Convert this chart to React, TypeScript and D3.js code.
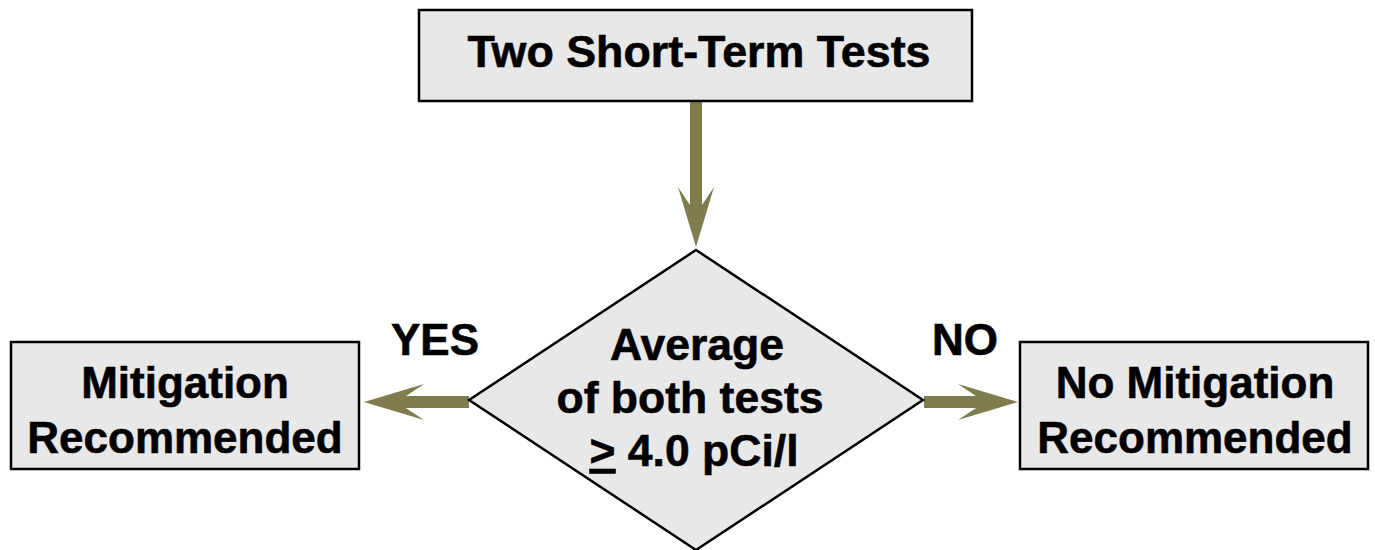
import React, { useEffect, useRef } from "react";
import * as d3 from "d3";

// flowchart content
const boxLabels: string[][] = [
  ["Two Short-Term Tests"],
  ["Mitigation", "Recommended"],
  ["No Mitigation", "Recommended"],
];
const decisionLines: string[] = ["Average", "of both tests", "> 4.0 pCi/l"];
const branchLabels: string[] = ["YES", "NO"];

const W = 1375;
const H = 550;
const FILL = "#e8e8e8";
const OLIVE = "#7f7d4e";
const FONT = "'Liberation Sans', Arial, Helvetica, sans-serif";

// notched arrow from (x1,y1) to tip (x2,y2)
function arrowPoints(x1: number, y1: number, x2: number, y2: number): [number, number][] {
  const len = Math.hypot(x2 - x1, y2 - y1);
  const ux = (x2 - x1) / len;
  const uy = (y2 - y1) / len;
  const nx = -uy;
  const ny = ux;
  const sw = 6; // half shaft
  const head = 60;
  const notch = 42;
  const barb = 18;
  const p = (a: number, b: number): [number, number] => [x1 + ux * a + nx * b, y1 + uy * a + ny * b];
  return [
    p(0, -sw),
    p(len - notch, -sw),
    p(len - head, -barb),
    p(len, 0),
    p(len - head, barb),
    p(len - notch, sw),
    p(0, sw),
  ];
}

const App = () => {
  const svgRef = useRef<SVGSVGElement | null>(null);

  useEffect(() => {
    const svg = d3.select(svgRef.current);
    svg.selectAll("*").remove();

    const boxes = [
      { x: 419, y: 10, w: 553, h: 91, cx: 699, base: [67], fs: 44.8 },
      { x: 11, y: 342, w: 348, h: 127, cx: 185, base: [398, 453], fs: 44 },
      { x: 1020, y: 342, w: 348, h: 127, cx: 1195, base: [398, 453], fs: 44 },
    ];

    const line = d3.line();

    // arrows
    const arrows: [number, number, number, number][] = [
      [696, 101, 696, 247],
      [469, 402, 364, 402],
      [924, 402, 1018, 402],
    ];
    svg
      .append("g")
      .selectAll("path")
      .data(arrows)
      .join("path")
      .attr("d", (d) => line(arrowPoints(d[0], d[1], d[2], d[3]))! + "Z")
      .attr("fill", OLIVE);

    // boxes
    const bg = svg.append("g").selectAll("g").data(boxes).join("g");
    bg.append("rect")
      .attr("x", (d) => d.x)
      .attr("y", (d) => d.y)
      .attr("width", (d) => d.w)
      .attr("height", (d) => d.h)
      .attr("fill", FILL)
      .attr("stroke", "#000")
      .attr("stroke-width", 2.5);
    bg.each(function (d, i) {
      d3.select(this)
        .selectAll("text")
        .data(boxLabels[i])
        .join("text")
        .attr("x", d.cx)
        .attr("y", (_, j) => d.base[j])
        .attr("text-anchor", "middle")
        .attr("font-family", FONT)
        .attr("font-weight", "bold")
        .attr("font-size", d.fs)
        .attr("fill", "#000")
        .attr("stroke", "#000")
        .attr("stroke-width", 0.6)
        .text((t) => t);
    });

    // decision diamond
    const cx = 696;
    const cy = 400;
    const hw = 227;
    const hh = 150;
    svg
      .append("path")
      .attr(
        "d",
        line([
          [cx, cy - hh],
          [cx + hw, cy],
          [cx, cy + hh],
          [cx - hw, cy],
        ])! + "Z"
      )
      .attr("fill", FILL)
      .attr("stroke", "#000")
      .attr("stroke-width", 2.5);

    const dBase = [360, 413, 466];
    const dX = [697, 690, 694];
    decisionLines.forEach((t, i) => {
      const txt = svg
        .append("text")
        .attr("x", dX[i])
        .attr("y", dBase[i])
        .attr("text-anchor", "middle")
        .attr("font-family", FONT)
        .attr("font-weight", "bold")
        .attr("font-size", 44.5)
        .attr("fill", "#000")
        .attr("stroke", "#000")
        .attr("stroke-width", 0.6);
      if (t.startsWith(">")) {
        txt.append("tspan").attr("text-decoration", "underline").text(">");
        txt.append("tspan").text(t.slice(1));
      } else {
        txt.text(t);
      }
    });

    // branch labels
    const bl = [
      { x: 435, y: 355 },
      { x: 965, y: 355 },
    ];
    svg
      .append("g")
      .selectAll("text")
      .data(branchLabels)
      .join("text")
      .attr("x", (_, i) => bl[i].x)
      .attr("y", (_, i) => bl[i].y)
      .attr("text-anchor", "middle")
      .attr("font-family", FONT)
      .attr("font-weight", "bold")
      .attr("font-size", 44)
      .attr("fill", "#000")
      .attr("stroke", "#000")
      .attr("stroke-width", 0.6)
      .text((d) => d);
  }, []);

  return (
    <svg
      ref={svgRef}
      width={W}
      height={H}
      style={{ position: "absolute", left: 0, top: 0, background: "#fff" }}
    ></svg>
  );
};

export default App;
